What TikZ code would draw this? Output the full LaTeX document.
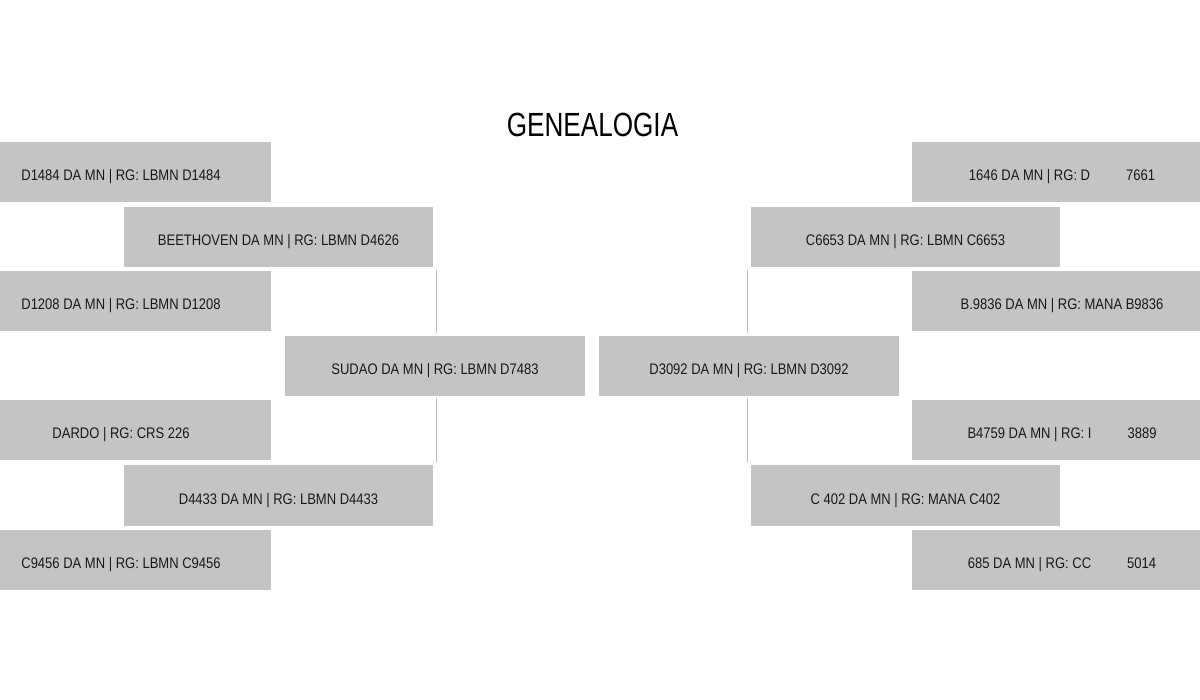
\documentclass[tikz,border=0pt]{standalone}
\usepackage{fontspec}
\setmainfont{Liberation Sans}
\newfontfamily\labfont{Liberation Sans}[FakeStretch=0.85]
\newfontfamily\titfont{Liberation Sans}[FakeStretch=0.78]
\usetikzlibrary{calc}
\definecolor{boxgray}{RGB}{196,196,196}
\definecolor{txt}{RGB}{25,25,25}
\definecolor{linegray}{RGB}{190,190,190}
\tikzset{
  pbox/.style={rectangle, fill=boxgray, draw=none, minimum height=60pt, inner sep=0pt,
    text=txt, font=\labfont\fontsize{15.3}{17}\selectfont, text height=17pt, text depth=0pt},
  wbox/.style={pbox, minimum width=300pt},
  mbox/.style={pbox, minimum width=309pt},
  conn/.style={draw=linegray, line width=1pt}
}
\newcommand{\redgap}{\hspace{36pt}}
\begin{document}
\begin{tikzpicture}[x=1pt,y=-1pt]
\useasboundingbox (0,0) rectangle (1200,700);
\clip (0,0) rectangle (1200,700);
\fill[white] (0,0) rectangle (1200,700);
\node[text=black, font=\titfont\fontsize{33.5}{36}\selectfont] (title) at (592.5,125) {GENEALOGIA};
% left side
\node[wbox] (a1) at (121,172) {D1484 DA MN | RG: LBMN D1484};
\node[mbox] (b1) at (278.5,236.7) {BEETHOVEN DA MN | RG: LBMN D4626};
\node[wbox] (a2) at (121,301.3) {D1208 DA MN | RG: LBMN D1208};
\node[wbox] (s) at (435,366) {SUDAO DA MN | RG: LBMN D7483};
\node[wbox] (a3) at (121,430.5) {DARDO | RG: CRS 226};
\node[mbox] (b2) at (278.5,495.5) {D4433 DA MN | RG: LBMN D4433};
\node[wbox] (a4) at (121,560) {C9456 DA MN | RG: LBMN C9456};
% right side
\node[wbox] (c1) at (1062,172) {1646 DA MN | RG: D\redgap 7661};
\node[mbox] (d1) at (905.5,236.7) {C6653 DA MN | RG: LBMN C6653};
\node[wbox] (c2) at (1062,301.3) {B.9836 DA MN | RG: MANA B9836};
\node[wbox] (m) at (749,366) {D3092 DA MN | RG: LBMN D3092};
\node[wbox] (c3) at (1062,430.5) {B4759 DA MN | RG: I\redgap 3889};
\node[mbox] (d2) at (905.5,495.5) {C 402 DA MN | RG: MANA C402};
\node[wbox] (c4) at (1062,560) {685 DA MN | RG: CC\redgap 5014};
% connectors
\draw[conn] ($(b1.south east)+(3,3)$) -- ($(b1.south east |- s.north)+(3,-3)$);
\draw[conn] ($(b2.north east |- s.south)+(3,2)$) -- ($(b2.north east)+(3,-3)$);
\draw[conn] ($(d1.south west)+(-3,3)$) -- ($(d1.south west |- m.north)+(-3,-3)$);
\draw[conn] ($(d2.north west |- m.south)+(-3,2)$) -- ($(d2.north west)+(-3,-3)$);
\end{tikzpicture}
\end{document}
